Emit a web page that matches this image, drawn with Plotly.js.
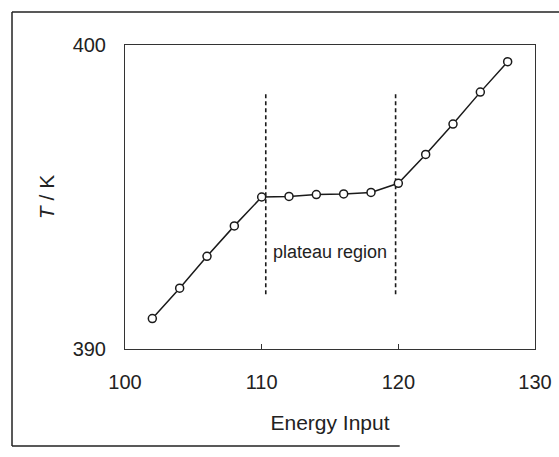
<!DOCTYPE html>
<html><head><meta charset="utf-8">
<script src="https://cdn.plot.ly/plotly-3.0.1.min.js"></script>
<style>html,body{margin:0;padding:0;background:#fff;} #chart{width:559px;height:457px;}</style>
</head><body><div id="chart"></div>
<script>
const energyInput = [102,104,106,108,110,112,114,116,118,120,122,124,126,128];
const temperatureK = [391.0,392.0,393.05,394.05,395.0,395.02,395.08,395.1,395.15,395.45,396.4,397.4,398.45,399.45];
const plateauBounds = [110.3, 119.8];
const plateauSpan = [391.8, 398.4];
const xTicks = [100,110,120,130];
const yTicks = [390,400];
const plateauLabel = 'plateau region';
const plateauLabelPos = [115, 393.2];

const FONT = '"Liberation Sans", Arial, sans-serif';
const INK = '#1a1a1a';

const traces = [];
plateauBounds.forEach(b => {
  traces.push({
    x: [b, b], y: plateauSpan, mode: 'lines', hoverinfo: 'skip', showlegend: false,
    line: {color: INK, width: 1.6, dash: '4px,3px'}
  });
});
traces.push({
  x: energyInput, y: temperatureK, mode: 'lines+markers', showlegend: false,
  line: {color: INK, width: 1.5},
  marker: {symbol: 'circle', size: 8, color: '#fff', line: {color: INK, width: 1.5}}
});

const axisCommon = {
  showgrid: false, zeroline: false, showline: true, mirror: true,
  linecolor: '#333', linewidth: 1,
  tickfont: {family: FONT, size: 20, color: '#222'},
  tickmode: 'array'
};

const layout = {
  width: 559, height: 457,
  margin: {l: 125, r: 24, t: 45, b: 108},
  paper_bgcolor: '#fff', plot_bgcolor: '#fff',
  font: {family: FONT, color: '#222'},
  showlegend: false,
  xaxis: Object.assign({}, axisCommon, {
    range: [100, 130], tickvals: xTicks, ticktext: xTicks.map(String),
    ticks: 'inside', ticklen: 5, tickcolor: '#333', ticklabelstandoff: 15,
    title: {text: 'Energy Input', font: {family: FONT, size: 21, color: '#222'}, standoff: 23}
  }),
  yaxis: Object.assign({}, axisCommon, {
    range: [390, 400], tickvals: yTicks, ticktext: yTicks.map(String),
    ticks: '', ticklabelstandoff: 14,
    title: {text: '<i>T</i> / K', font: {family: FONT, size: 21, color: '#222'}, standoff: 12}
  }),
  annotations: [{
    x: plateauLabelPos[0], y: plateauLabelPos[1], xref: 'x', yref: 'y',
    text: plateauLabel, showarrow: false,
    font: {family: FONT, size: 18, color: '#222'}
  }],
  shapes: [
    {type: 'line', xref: 'paper', yref: 'paper', x0: -0.2756, x1: -0.2756, y0: -0.319, y1: 1.1086, line: {color: '#222', width: 1.5}},
    {type: 'line', xref: 'paper', yref: 'paper', x0: -0.2756, x1: 1.06, y0: 1.1086, y1: 1.1086, line: {color: '#222', width: 1.5}},
    {type: 'line', xref: 'paper', yref: 'paper', x0: -0.2756, x1: 0.67, y0: -0.319, y1: -0.319, line: {color: '#222', width: 1.5}}
  ]
};

Plotly.newPlot('chart', traces, layout, {displayModeBar: false, staticPlot: true});
</script>
</body></html>
